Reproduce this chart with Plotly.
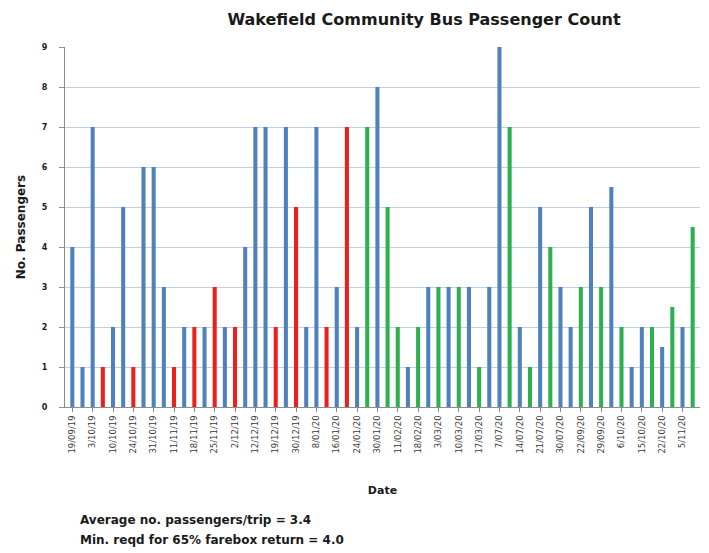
import plotly.graph_objects as go

passengers = [4, 1, 7, 1, 2, 5, 1, 6, 6, 3,
              1, 2, 2, 2, 3, 2, 2, 4, 7, 7,
              2, 7, 5, 2, 7, 2, 3, 7, 2, 7,
              8, 5, 2, 1, 2, 3, 3, 3, 3, 3,
              1, 3, 9, 7, 2, 1, 5, 4, 3, 2,
              3, 5, 3, 5.5, 2, 1, 2, 2, 1.5, 2.5,
              2, 4.5]

groups = ["B", "B", "B", "R", "B", "B", "R", "B", "B", "B",
          "R", "B", "R", "B", "R", "B", "R", "B", "B", "B",
          "R", "B", "R", "B", "B", "R", "B", "R", "B", "G",
          "B", "G", "G", "B", "G", "B", "G", "B", "G", "B",
          "G", "B", "B", "G", "B", "G", "B", "G", "B", "B",
          "G", "B", "G", "B", "G", "B", "B", "G", "B", "G",
          "B", "G"]

date_labels = ["19/09/19", "3/10/19", "10/10/19", "24/10/19", "31/10/19",
               "11/11/19", "18/11/19", "25/11/19", "2/12/19", "12/12/19",
               "19/12/19", "30/12/19", "8/01/20", "16/01/20", "24/01/20",
               "30/01/20", "11/02/20", "18/02/20", "3/03/20", "10/03/20",
               "17/03/20", "7/07/20", "14/07/20", "21/07/20", "30/07/20",
               "22/09/20", "29/09/20", "6/10/20", "15/10/20", "22/10/20",
               "5/11/20"]

y_ticks = list(range(0, 10))

title_text = "Wakefield Community Bus Passenger Count"
y_title = "No. Passengers"
x_title = "Date"
notes = ["Average no. passengers/trip = 3.4",
         "Min. reqd for 65% farebox return = 4.0"]

color_map = {"B": "#4F81BD", "R": "#E8201E", "G": "#2EB050"}

x_idx = list(range(len(passengers)))
label_pos = x_idx[::2]

fig = go.Figure()
fig.add_trace(go.Bar(
    x=x_idx, y=passengers,
    marker=dict(color=[color_map[g] for g in groups], line=dict(width=0)),
    showlegend=False,
))

FONT = "'DejaVu Sans', sans-serif"

# page has an 8px body margin: figure occupies page x 8..709, y 8..553
W, H = 701, 545
fig.update_layout(
    width=W, height=H,
    margin=dict(l=57, r=9, t=39, b=146),
    paper_bgcolor="white", plot_bgcolor="white",
    bargap=0.6,
    font=dict(family=FONT, color="#222222"),
    title=dict(text=title_text, x=416 / W, xanchor="center",
               y=1 - 11 / H, yanchor="middle",
               font=dict(size=16, color="#1a1a1a", family=FONT, weight="bold")),
    xaxis=dict(
        range=[-0.72, len(passengers) - 0.28],
        tickmode="array", tickvals=label_pos, ticktext=date_labels,
        tickangle=-90, tickfont=dict(size=8.5, color="#3a3a3a"),
        showgrid=False, showline=True, linecolor="#8c8c8c", linewidth=1,
        ticks="outside", ticklen=4, tickcolor="#8c8c8c",
        title=dict(text=x_title, font=dict(size=11, color="#1a1a1a", weight="bold"),
                   standoff=33),
        zeroline=False,
    ),
    yaxis=dict(
        range=[0, 9], tickmode="array", tickvals=y_ticks,
        tickfont=dict(size=8, color="#1a1a1a", weight="bold"),
        ticklabelstandoff=10,
        showgrid=True, gridcolor="#C3CFE2", gridwidth=1,
        showline=True, linecolor="#8c8c8c", linewidth=1,
        ticks="outside", ticklen=5, tickcolor="#8c8c8c",
        title=dict(text=y_title, font=dict(size=12, color="#1a1a1a", weight="bold"),
                   standoff=13),
        zeroline=False,
    ),
)

fig.add_annotation(text=notes[0], xref="paper", yref="paper",
                   x=(78 - 65) / 635, y=-(520 - 407) / 360, xanchor="left", yanchor="middle",
                   showarrow=False,
                   font=dict(size=12, color="#1a1a1a", family=FONT, weight="bold"))
fig.add_annotation(text=notes[1], xref="paper", yref="paper",
                   x=(78 - 65) / 635, y=-(540 - 407) / 360, xanchor="left", yanchor="middle",
                   showarrow=False,
                   font=dict(size=12, color="#1a1a1a", family=FONT, weight="bold"))

fig.write_html("out.html")
